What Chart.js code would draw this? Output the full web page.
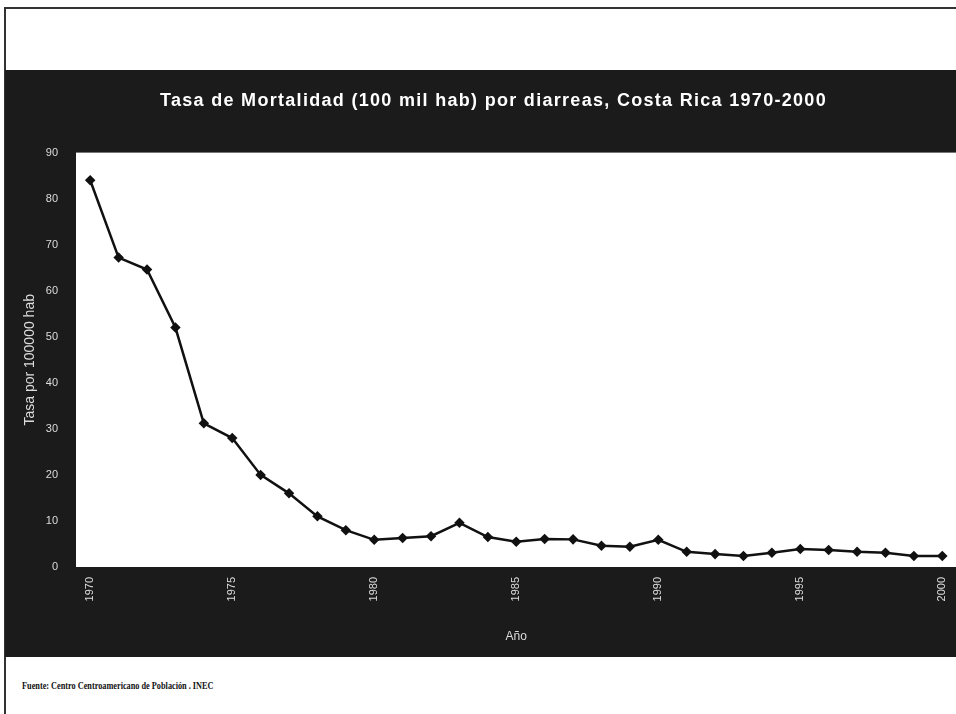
<!DOCTYPE html>
<html>
<head>
<meta charset="utf-8">
<script src="https://cdn.jsdelivr.net/npm/chart.js@4.4.1/dist/chart.umd.min.js"></script>
<style>
  html, body { margin: 0; padding: 0; background: #fff; }
  body { width: 956px; height: 714px; position: relative; overflow: hidden; }
  #frameTop { position: absolute; left: 4px; top: 7px; width: 952px; height: 2px; background: #333; }
  #frameLeft { position: absolute; left: 4px; top: 7px; width: 2px; height: 707px; background: #333; }
  #panel { position: absolute; left: 5px; top: 70px; width: 958px; height: 587px; }
  #fuente { position: absolute; left: 22px; top: 679px; font-family: "Liberation Serif", "DejaVu Serif", serif;
            font-size: 11px; font-weight: bold; color: #111; white-space: nowrap;
            transform: scaleX(0.75); transform-origin: left top; }
</style>
</head>
<body>
<div id="frameTop"></div>
<div id="frameLeft"></div>
<div id="panel"><canvas id="tasaChart" width="958" height="587"></canvas></div>
<div id="fuente">Fuente: Centro Centroamericano de Población . INEC</div>

<script>
// Años y tasas
const anios = [1970, 1971, 1972, 1973, 1974, 1975, 1976, 1977, 1978, 1979,
               1980, 1981, 1982, 1983, 1984, 1985, 1986, 1987, 1988, 1989,
               1990, 1991, 1992, 1993, 1994, 1995, 1996, 1997, 1998, 1999, 2000];
const tasas = [84, 67.2, 64.6, 52, 31.2, 28, 20, 16, 11, 8,
               5.9, 6.3, 6.7, 9.6, 6.5, 5.5, 6.1, 6.0, 4.6, 4.4,
               5.9, 3.3, 2.8, 2.4, 3.1, 3.9, 3.7, 3.3, 3.1, 2.4, 2.4];
const aniosVisibles = [1970, 1975, 1980, 1985, 1990, 1995, 2000];
const titulo = 'Tasa de Mortalidad (100 mil hab) por diarreas, Costa Rica 1970-2000';

// Fondo oscuro del panel y área de trazado blanca; espaciado del título
const fondoPlugin = {
    id: 'fondo',
    beforeDraw(chart) {
        const { ctx, chartArea } = chart;
        ctx.save();
        ctx.fillStyle = '#1b1b1b';
        ctx.fillRect(0, 0, chart.width, chart.height);
        ctx.fillStyle = '#ffffff';
        ctx.fillRect(chartArea.left, chartArea.top, chartArea.width, chartArea.height);
        ctx.restore();
        ctx.letterSpacing = '1.3px'; // solo para el título (se dibuja antes de los datos)
    },
    beforeDatasetsDraw(chart) {
        chart.ctx.letterSpacing = '0px';
    }
};

const fuenteEjes = { family: '"Liberation Sans", Arial, sans-serif', size: 11 };

const ctx = document.getElementById('tasaChart').getContext('2d');
new Chart(ctx, {
    type: 'line',
    data: {
        labels: anios,
        datasets: [{
            data: tasas,
            borderColor: '#111',
            backgroundColor: '#111',
            borderWidth: 2.5,
            pointStyle: 'rectRot',
            pointRadius: 3.5,
            pointBackgroundColor: '#111',
            pointBorderColor: '#111',
            tension: 0,
            fill: false
        }]
    },
    options: {
        responsive: false,
        animation: false,
        layout: { padding: { left: 19, right: 0, top: 0, bottom: 0 } },
        plugins: {
            legend: { display: false },
            tooltip: { enabled: false },
            title: {
                display: true,
                text: titulo,
                color: '#ffffff',
                font: { family: '"Liberation Sans", Arial, sans-serif', size: 18, weight: 'bold' },
                padding: { top: 20, bottom: 41 }
            }
        },
        scales: {
            x: {
                offset: true,
                grid: { display: false, drawTicks: false, z: 1 },
                border: { display: false },
                afterFit: scale => {
                    scale.height = 90;
                    scale.paddingLeft = 0;
                    scale.paddingRight = 0;
                },
                ticks: {
                    z: 1,
                    autoSkip: false,
                    minRotation: 90,
                    maxRotation: 90,
                    padding: 10,
                    color: '#dddddd',
                    font: fuenteEjes,
                    callback: function (value) {
                        const anio = this.getLabelForValue(value);
                        return aniosVisibles.includes(anio) ? String(anio) : '';
                    }
                },
                title: {
                    display: true,
                    text: 'Año',
                    color: '#dddddd',
                    padding: { top: 0, bottom: 13 },
                    font: { family: '"Liberation Sans", Arial, sans-serif', size: 12 }
                }
            },
            y: {
                min: 0,
                max: 90,
                grid: { display: false, drawTicks: false, z: 1 },
                border: { display: false },
                afterFit: scale => { scale.width = 52; },
                ticks: {
                    z: 1,
                    stepSize: 10,
                    padding: 18,
                    color: '#dddddd',
                    font: fuenteEjes
                },
                title: {
                    display: true,
                    text: 'Tasa por 100000 hab',
                    color: '#dddddd',
                    padding: { top: -2, bottom: 0 },
                    font: { family: '"Liberation Sans", Arial, sans-serif', size: 14 }
                }
            }
        }
    },
    plugins: [fondoPlugin]
});
</script>
</body>
</html>
